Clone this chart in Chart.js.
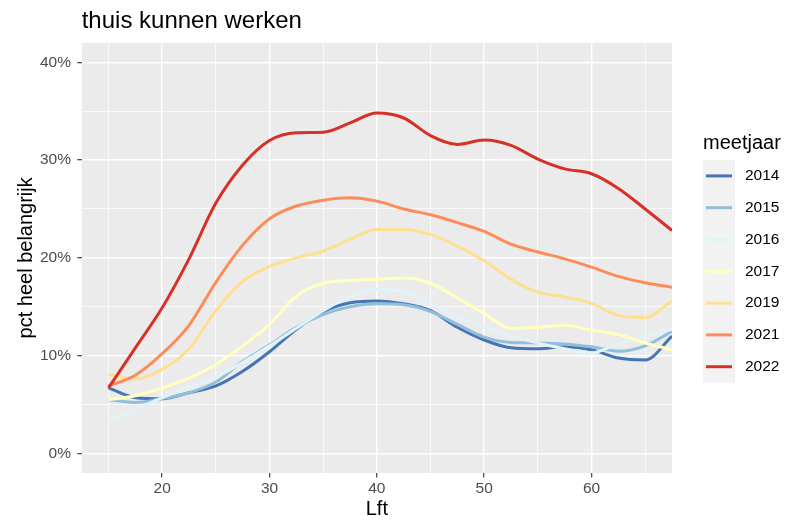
<!DOCTYPE html>
<html>
<head>
<meta charset="utf-8">
<script src="https://cdn.jsdelivr.net/npm/chart.js@4.4.1/dist/chart.umd.min.js"></script>
<style>
  html, body { margin: 0; padding: 0; background: #ffffff; }
  #wrap { width: 794px; height: 524px; position: relative; }
</style>
</head>
<body>
<div id="wrap"><canvas id="c" width="794" height="524"></canvas></div>
<script>
// ---- data ----
const ages = [15, 17.5, 20, 22.5, 25, 27.5, 30, 32.5, 35, 37.5, 40, 42.5, 45, 47.5, 50, 52.5, 55, 57.5, 60, 62.5, 65, 67.5];
const years = ['2014', '2015', '2016', '2017', '2019', '2021', '2022'];
const colors = ['#4575B4', '#91BFDB', '#E0F3F8', '#FFFFBF', '#FEE090', '#FC8D59', '#D73027'];

const pct2014 = [6.7, 5.7, 5.6, 6.2, 6.9, 8.4, 10.4, 12.7, 14.5, 15.4, 15.6, 15.3, 14.6, 12.9, 11.6, 10.8, 10.7, 10.9, 10.6, 9.75, 9.55, 12.0];
const pct2015 = [5.5, 5.2, 5.6, 6.2, 7.3, 9.4, 11.1, 12.9, 14.2, 15.0, 15.3, 15.2, 14.5, 13.2, 11.9, 11.35, 11.3, 11.2, 10.9, 10.45, 11.0, 12.5];
const pct2016 = [3.3, 4.5, 5.7, 6.8, 7.8, 9.3, 11.0, 12.8, 14.6, 16.0, 16.8, 16.5, 15.3, 14.0, 12.9, 12.0, 11.3, 10.7, 10.3, 11.2, 12.0, 12.7];
const pct2017 = [5.5, 5.9, 6.7, 7.7, 9.1, 11.0, 13.2, 16.1, 17.4, 17.7, 17.8, 17.95, 17.4, 15.9, 14.3, 12.8, 12.9, 13.1, 12.6, 12.15, 11.3, 10.6];
const pct2019 = [8.1, 7.6, 8.6, 10.7, 14.6, 17.6, 19.1, 20.0, 20.7, 21.9, 22.9, 22.9, 22.4, 21.2, 19.7, 17.8, 16.5, 16.0, 15.35, 14.1, 13.9, 15.6];
const pct2021 = [6.9, 8.0, 10.2, 13.1, 17.5, 21.3, 24.0, 25.3, 25.9, 26.15, 25.8, 25.0, 24.4, 23.6, 22.7, 21.4, 20.6, 19.9, 19.05, 18.1, 17.45, 17.0];
const pct2022 = [6.7, 10.8, 14.9, 19.9, 25.6, 29.5, 32.0, 32.8, 32.85, 33.8, 34.8, 34.3, 32.5, 31.6, 32.05, 31.5, 30.1, 29.1, 28.6, 27.1, 25.0, 22.8];

const seriesValues = [pct2014, pct2015, pct2016, pct2017, pct2019, pct2021, pct2022];

const xMajorTicks = [20, 30, 40, 50, 60];
const xMinorTicks = [15, 25, 35, 45, 55, 65];
const yMajorTicks = [0, 10, 20, 30, 40];
const yMinorTicks = [5, 15, 25, 35];

const chartTitle = 'thuis kunnen werken';
const xAxisTitle = 'Lft';
const yAxisTitle = 'pct heel belangrijk';
const legendTitle = 'meetjaar';

// ---- styling ----
const FONT = '"Liberation Sans", Arial, Helvetica, sans-serif';

const datasets = years.map((yr, i) => ({
  label: yr,
  data: ages.map((a, j) => ({ x: a, y: seriesValues[i][j] })),
  borderColor: colors[i],
  backgroundColor: colors[i],
  borderWidth: 3,
  pointRadius: 0,
  pointHoverRadius: 0,
  fill: false,
  cubicInterpolationMode: 'monotone',
  order: years.length - i
}));

const panelBg = {
  id: 'panelBg',
  beforeDraw(chart) {
    const { ctx, chartArea: a } = chart;
    ctx.save();
    ctx.fillStyle = '#EBEBEB';
    ctx.fillRect(a.left, a.top, a.right - a.left, a.bottom - a.top);
    ctx.restore();
  }
};

const titleAndLegend = {
  id: 'titleAndLegend',
  afterDraw(chart) {
    const { ctx, chartArea: a } = chart;
    ctx.save();
    // plot title
    ctx.fillStyle = '#000000';
    ctx.font = '24px ' + FONT;
    ctx.textAlign = 'left';
    ctx.textBaseline = 'alphabetic';
    ctx.fillText(chartTitle, a.left, 28);

    // legend
    const lx = 703, keyW = 32, keyTop = 160, keyH = 31.8;
    ctx.font = '20px ' + FONT;
    ctx.textBaseline = 'middle';
    ctx.fillText(legendTitle, lx, 143);
    const ds = chart.data.datasets;
    ctx.fillStyle = '#F2F2F2';
    ctx.fillRect(lx, keyTop, keyW, keyH * ds.length);
    ds.forEach((d, i) => {
      const cy = keyTop + keyH * i + keyH / 2;
      ctx.strokeStyle = d.borderColor;
      ctx.lineWidth = 3;
      ctx.beginPath();
      ctx.moveTo(lx + 3, cy);
      ctx.lineTo(lx + keyW - 3, cy);
      ctx.stroke();
      ctx.fillStyle = '#000000';
      ctx.font = '15.5px ' + FONT;
      ctx.fillText(d.label, 745, cy);
    });
    ctx.restore();
  }
};

const isMajor = (list, v) => list.includes(v);

new Chart(document.getElementById('c'), {
  type: 'line',
  data: { datasets },
  options: {
    responsive: false,
    animation: false,
    devicePixelRatio: 1,
    layout: { padding: { top: 42.7, right: 122, bottom: 0, left: 0 } },
    plugins: {
      legend: { display: false },
      title: { display: false },
      tooltip: { enabled: false }
    },
    scales: {
      x: {
        type: 'linear',
        min: 12.5,
        max: 67.5,
        afterBuildTicks(scale) {
          scale.ticks = xMinorTicks.concat(xMajorTicks).sort((p, q) => p - q).map(v => ({ value: v }));
        },
        afterFit(scale) { scale.height = 51; },
        border: { display: false },
        grid: {
          color: '#FFFFFF',
          lineWidth: ctx => isMajor(xMajorTicks, ctx.tick && ctx.tick.value) ? 1.4 : 0.7,
          drawTicks: true,
          tickLength: 4.5,
          tickWidth: 1.1,
          tickColor: ctx => isMajor(xMajorTicks, ctx.tick && ctx.tick.value) ? '#333333' : 'rgba(0,0,0,0)'
        },
        ticks: {
          autoSkip: false,
          maxRotation: 0,
          padding: 1.5,
          color: '#4D4D4D',
          font: { family: FONT, size: 15.5 },
          callback: v => isMajor(xMajorTicks, v) ? String(v) : ''
        },
        title: {
          display: true,
          text: xAxisTitle,
          color: '#000000',
          font: { family: FONT, size: 20 },
          padding: { top: 0, bottom: 2.2 }
        }
      },
      y: {
        type: 'linear',
        min: -2,
        max: 42,
        afterBuildTicks(scale) {
          scale.ticks = yMinorTicks.concat(yMajorTicks).sort((p, q) => p - q).map(v => ({ value: v }));
        },
        afterFit(scale) { scale.width = 81.7; },
        border: { display: false },
        grid: {
          color: '#FFFFFF',
          lineWidth: ctx => isMajor(yMajorTicks, ctx.tick && ctx.tick.value) ? 1.4 : 0.7,
          drawTicks: true,
          tickLength: 4.5,
          tickWidth: 1.1,
          tickColor: ctx => isMajor(yMajorTicks, ctx.tick && ctx.tick.value) ? '#333333' : 'rgba(0,0,0,0)'
        },
        ticks: {
          autoSkip: false,
          padding: 6.2,
          color: '#4D4D4D',
          font: { family: FONT, size: 15.5 },
          callback: v => isMajor(yMajorTicks, v) ? v + '%' : ''
        },
        title: {
          display: true,
          text: yAxisTitle,
          color: '#000000',
          font: { family: FONT, size: 20 },
          padding: { top: 14.5, bottom: 0 }
        }
      }
    }
  },
  plugins: [panelBg, titleAndLegend]
});
</script>
</body>
</html>
